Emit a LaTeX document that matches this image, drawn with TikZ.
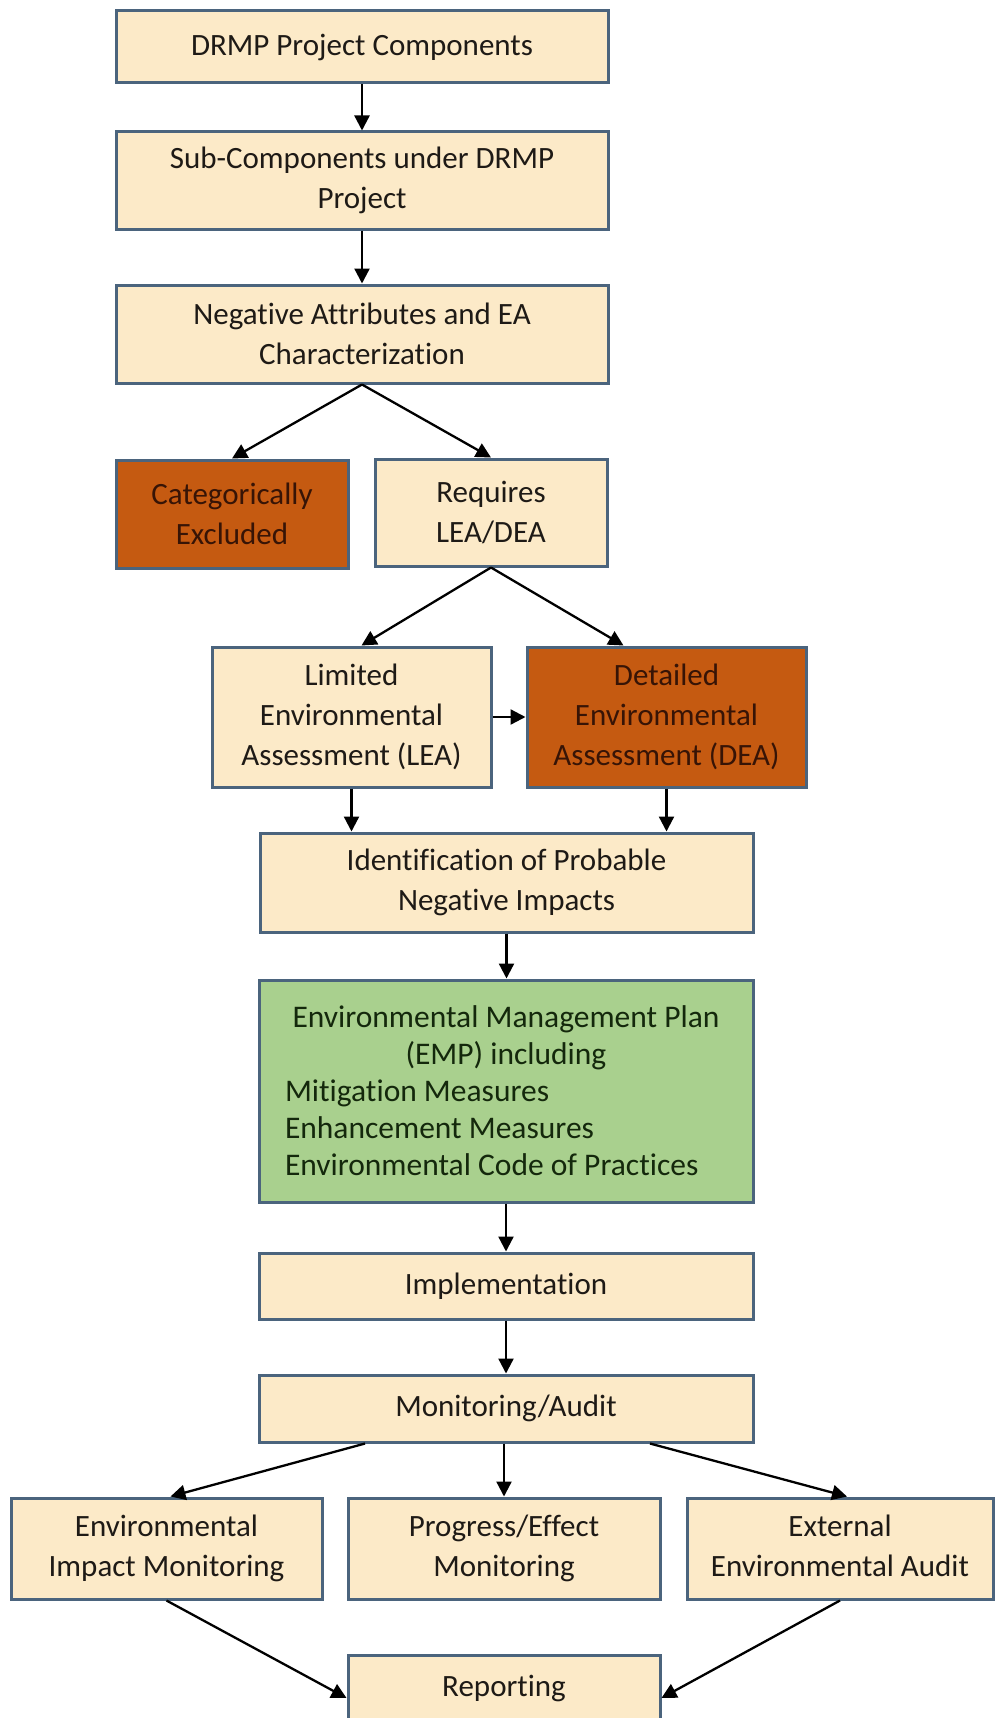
\documentclass[tikz,border=0pt]{standalone}
\usepackage{fontspec}
\setmainfont{Carlito}[Ligatures=NoCommon]
\usetikzlibrary{arrows.meta}
\definecolor{cream}{RGB}{252,234,200}
\definecolor{bord}{RGB}{75,100,125}
\definecolor{orng}{RGB}{197,90,17}
\definecolor{grn}{RGB}{169,208,142}
\definecolor{txt}{RGB}{30,26,22}
\definecolor{otxt}{RGB}{55,20,6}
\definecolor{gtxt}{RGB}{20,40,12}
\tikzset{
  box/.style={draw=bord, line width=3pt, fill=cream, text=txt, inner sep=0pt,
    align=center, font=\fontsize{31}{40}\selectfont},
  obox/.style={box, fill=orng, text=otxt},
  gbox/.style={box, fill=grn, text=gtxt},
  conn/.style={line width=2.3pt, -{Triangle[length=15pt,width=15pt]}, black}
}
\begin{document}
\begin{tikzpicture}[x=1pt,y=-1pt]
\useasboundingbox (0,0) rectangle (995,1718);
\node[box, minimum width=492pt, minimum height=72pt] (b1) at (362,47) {DRMP Project Components};
\node[box, minimum width=492pt, minimum height=97pt] (b2) at (362,180.5) {Sub-Components under DRMP\\Project};
\node[box, minimum width=492pt, minimum height=98pt] (b3) at (362,334) {Negative Attributes and EA\\Characterization};
\node[obox, minimum width=232pt, minimum height=108pt] (cat) at (232,514) {Categorically\\Excluded};
\node[box, minimum width=232pt, minimum height=107pt] (req) at (491,512.5) {Requires\\LEA/DEA};
\node[box, minimum width=279pt, minimum height=140pt] (lea) at (351.5,717) {Limited\\Environmental\\Assessment (LEA)};
\node[obox, minimum width=279pt, minimum height=140pt] (dea) at (666.5,717) {Detailed\\Environmental\\Assessment (DEA)};
\node[box, minimum width=493pt, minimum height=99pt] (idf) at (506.5,882.5) {Identification of Probable\\Negative Impacts};
\node[gbox, minimum width=494pt, minimum height=222pt, text width=442pt, align=left,
  font=\fontsize{31.5}{37}\selectfont] (emp) at (506,1091)
  {\spaceskip=0pt \xspaceskip=0pt
   {\centering Environmental Management Plan\\(EMP) including\par}%
   \raggedright\spaceskip=0pt \xspaceskip=0pt
   Mitigation Measures\\Enhancement Measures\\Environmental Code of Practices};
\node[box, minimum width=494pt, minimum height=66pt] (imp) at (506,1286) {Implementation};
\node[box, minimum width=494pt, minimum height=67pt] (mon) at (506,1408.5) {Monitoring/Audit};
\node[box, minimum width=311pt, minimum height=101pt] (eim) at (166.5,1548.5) {Environmental\\Impact Monitoring};
\node[box, minimum width=312pt, minimum height=101pt] (pem) at (504,1548.5) {Progress/Effect\\Monitoring};
\node[box, minimum width=306pt, minimum height=101pt] (eea) at (840,1548.5) {External\\Environmental Audit\vphantom{g}};
\node[box, minimum width=312pt, minimum height=66pt] (rep) at (504,1688) {Reporting};

\draw[conn] (b1) -- (b2);
\draw[conn] (b2) -- (b3);
\draw[conn] (b3.south) -- (cat.north);
\draw[conn] (b3.south) -- (req.north);
\draw[conn] (req.south) -- ([xshift=10pt]lea.north);
\draw[conn] (req.south) -- ([xshift=-43pt]dea.north);
\draw[conn] (lea.east) -- (dea.west);
\draw[conn] (lea.south) -- (lea.south |- idf.north);
\draw[conn] (dea.south) -- (dea.south |- idf.north);
\draw[conn] (idf.south) -- (idf.south |- emp.north);
\draw[conn] (emp.south) -- (emp.south |- imp.north);
\draw[conn] (imp) -- (mon);
\draw[conn] ([xshift=-141pt]mon.south) -- ([xshift=4pt]eim.north);
\draw[conn] (mon.south -| pem.north) -- (pem.north);
\draw[conn] ([xshift=144pt]mon.south) -- ([xshift=7pt]eea.north);
\draw[conn] (eim.south) -- ([yshift=-10pt]rep.west);
\draw[conn] (eea.south) -- ([yshift=-10pt]rep.east);
\end{tikzpicture}
\end{document}
